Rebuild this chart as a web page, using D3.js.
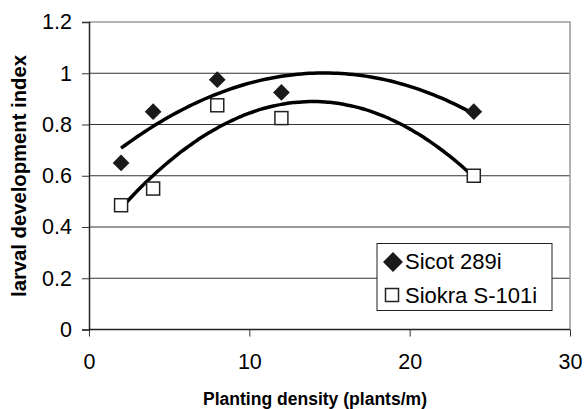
<!DOCTYPE html>
<html>
<head>
<meta charset="utf-8">
<script src="https://cdn.jsdelivr.net/npm/d3@7"></script>
<style>
  body { margin: 0; background: #fff; }
  text { font-family: "Liberation Sans", Arial, sans-serif; fill: #000; }
</style>
</head>
<body>
<svg id="chart" width="585" height="409"></svg>
<script>
// data
let density = [2, 4, 8, 12, 24]
let sicot = [0.65, 0.85, 0.975, 0.925, 0.85]
let siokra = [0.485, 0.55, 0.875, 0.825, 0.60]
let seriesNames = ['Sicot 289i', 'Siokra S-101i']
let xTicks = [0, 10, 20, 30]
let yTicks = [0, 0.2, 0.4, 0.6, 0.8, 1.0, 1.2]

// least squares 2nd order polynomial (like excel trendline)
function polyFit(xs, ys) {
    let s = [0, 0, 0, 0, 0], t = [0, 0, 0]
    xs.forEach((x, i) => {
        for (let k = 0; k < 5; k++) s[k] += Math.pow(x, k)
        for (let k = 0; k < 3; k++) t[k] += Math.pow(x, k) * ys[i]
    })
    let m = [[s[0], s[1], s[2], t[0]], [s[1], s[2], s[3], t[1]], [s[2], s[3], s[4], t[2]]]
    for (let i = 0; i < 3; i++) {
        for (let j = i + 1; j < 3; j++) {
            let f = m[j][i] / m[i][i]
            for (let k = i; k < 4; k++) m[j][k] -= f * m[i][k]
        }
    }
    let c = [0, 0, 0]
    for (let i = 2; i >= 0; i--) {
        let v = m[i][3]
        for (let k = i + 1; k < 3; k++) v -= m[i][k] * c[k]
        c[i] = v / m[i][i]
    }
    return x => c[0] + c[1] * x + c[2] * x * x
}

let svg = d3.select('#chart')
let pLeft = 89, pRight = 570, pTop = 22, pBottom = 329.5
let xScale = d3.scaleLinear().domain([0, 30]).range([pLeft, pRight])
let yScale = d3.scaleLinear().domain([0, 1.2]).range([pBottom, pTop])

// grid
svg.append('g').selectAll('line').data(yTicks.filter(d => d > 0 && d < 1.2)).enter().append('line')
    .attr('x1', pLeft).attr('x2', pRight)
    .attr('y1', d => yScale(d)).attr('y2', d => yScale(d))
    .attr('stroke', '#333').attr('stroke-width', 1)
// frame top/right
svg.append('path')
    .attr('d', 'M' + pLeft + ',' + pTop + 'H' + pRight + 'V' + pBottom)
    .attr('fill', 'none').attr('stroke', '#9a9a9a').attr('stroke-width', 1.5)

// axes
let xAxis = svg.append('g').attr('transform', 'translate(0,' + pBottom + ')')
    .call(d3.axisBottom(xScale).tickValues(xTicks).tickSize(7).tickPadding(17).tickFormat(d3.format('d')))
let yAxis = svg.append('g').attr('transform', 'translate(' + pLeft + ',0)')
    .call(d3.axisLeft(yScale).tickValues(yTicks).tickSize(7).tickPadding(10).tickFormat(d => d === 0 || d === 1 ? d3.format('d')(d) : d3.format('.1f')(d)))
;[xAxis, yAxis].forEach(a => {
    a.selectAll('text').attr('font-size', 21.5).attr('font-family', '"Liberation Sans", Arial, sans-serif').attr('fill', '#000')
    a.selectAll('line').attr('stroke', '#333')
    a.select('.domain').attr('stroke', '#222').attr('stroke-width', 1.5)
})
xAxis.select('.domain').attr('d', 'M' + pLeft + ',0H' + pRight)

// trend lines
let line = d3.line().x(d => xScale(d[0])).y(d => yScale(d[1])).curve(d3.curveBasis)
;[sicot, siokra].forEach(vals => {
    let f = polyFit(density, vals)
    let pts = d3.range(2, 24.01, 0.25).map(x => [x, f(x)])
    svg.append('path').datum(pts).attr('d', line)
        .attr('fill', 'none').attr('stroke', '#000').attr('stroke-width', 3.5)
})

// markers
let diamond = d3.symbol().type(d3.symbolSquare).size(140)
svg.append('g').selectAll('path').data(density).enter().append('path')
    .attr('d', diamond)
    .attr('transform', (d, i) => 'translate(' + xScale(d) + ',' + yScale(sicot[i]) + ') rotate(45)')
    .attr('fill', '#1a1a1a')
svg.append('g').selectAll('rect').data(density).enter().append('rect')
    .attr('x', d => xScale(d) - 6.5).attr('y', (d, i) => yScale(siokra[i]) - 6.5)
    .attr('width', 13).attr('height', 13)
    .attr('fill', '#fff').attr('stroke', '#222').attr('stroke-width', 1.5)

// legend
let lg = svg.append('g')
lg.append('rect').attr('x', 377).attr('y', 243.5).attr('width', 175).attr('height', 67)
    .attr('fill', '#fff').attr('stroke', '#222').attr('stroke-width', 1)
lg.append('path').attr('d', d3.symbol().type(d3.symbolSquare).size(200))
    .attr('transform', 'translate(393,262) rotate(45)').attr('fill', '#1a1a1a')
lg.append('rect').attr('x', 385.5).attr('y', 288.5).attr('width', 13).attr('height', 13)
    .attr('fill', '#fff').attr('stroke', '#222').attr('stroke-width', 1.5)
lg.selectAll('text.lab').data(seriesNames).enter().append('text')
    .attr('x', 405).attr('y', (d, i) => 268.5 + i * 34)
    .attr('font-size', 22).text(d => d)

// titles
svg.append('text').attr('x', 203).attr('y', 405).attr('font-size', 17.5).attr('font-weight', 'bold')
    .attr('textLength', 224).attr('lengthAdjust', 'spacingAndGlyphs')
    .text('Planting density (plants/m)')
svg.append('text').attr('transform', 'translate(26,176) rotate(-90)').attr('text-anchor', 'middle')
    .attr('font-size', 19.5).attr('font-weight', 'bold')
    .attr('textLength', 242).attr('lengthAdjust', 'spacingAndGlyphs')
    .text('larval development index')
</script>
</body>
</html>
